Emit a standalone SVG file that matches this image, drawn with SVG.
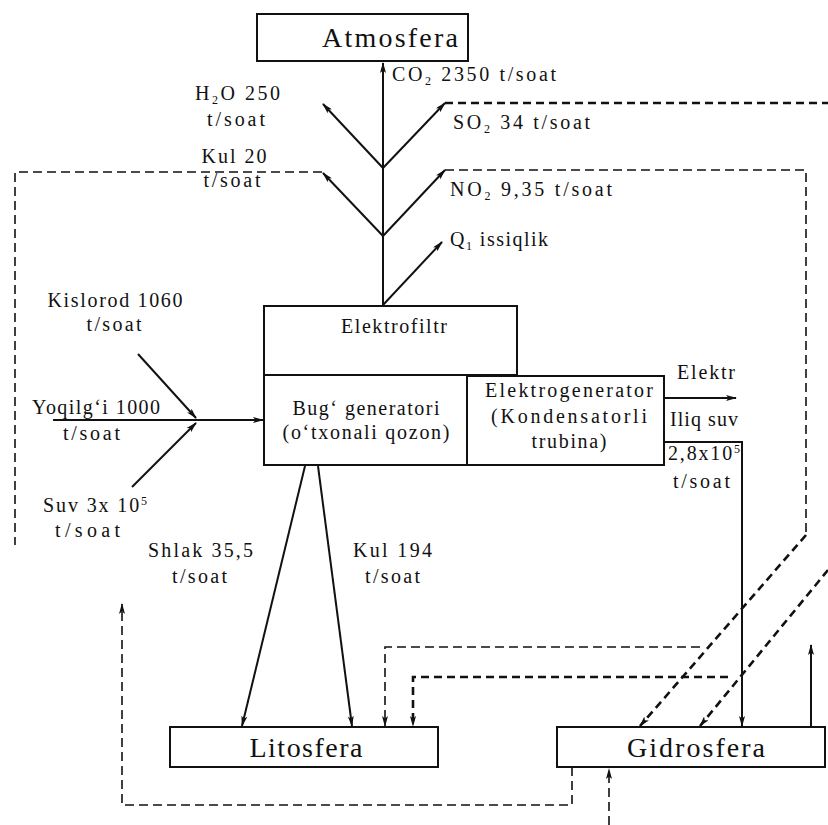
<svg xmlns="http://www.w3.org/2000/svg" width="828" height="825" viewBox="0 0 828 825">
<style>
text{font-family:"Liberation Serif","Times New Roman",serif;fill:#111;}
.lbl{font-size:20px;}
.box{fill:#fff;stroke:#111;stroke-width:2;}
.big{font-size:28px;}
.bt{font-size:20px;}
.s{fill:none;stroke:#111;stroke-width:2;}
.d{fill:none;stroke:#111;stroke-width:1.6;stroke-dasharray:9 5;}
.db{fill:none;stroke:#111;stroke-width:2.6;stroke-dasharray:8 5;}
.sub{font-size:12px;}
</style>
<defs>
<marker id="ah" viewBox="0 0 11 6" refX="10" refY="3" markerWidth="11" markerHeight="6" markerUnits="userSpaceOnUse" orient="auto">
<path d="M0,0 L11,3 L0,6 L2.5,3 z" fill="#111"/>
</marker>
</defs>

<g id="connectors">
<path class="s" d="M383,306 V63" marker-end="url(#ah)"/>
<path class="s" d="M383,168 L323,104" marker-end="url(#ah)"/>
<path class="s" d="M383,168 L445,103" marker-end="url(#ah)"/>
<path class="s" d="M383,236 L323,173" marker-end="url(#ah)"/>
<path class="s" d="M383,236 L445,170" marker-end="url(#ah)"/>
<path class="s" d="M383,305 L442,242" marker-end="url(#ah)"/>
<path class="s" d="M138,354 L196,418" marker-end="url(#ah)"/>
<path class="s" d="M132,487 L196,423" marker-end="url(#ah)"/>
<path class="s" d="M53,420 H263" marker-end="url(#ah)"/>
<path class="s" d="M665,398 H736" marker-end="url(#ah)"/>
<path class="s" d="M665,442 H742 V726" marker-end="url(#ah)"/>
<path class="s" d="M305,466 L242,726" marker-end="url(#ah)"/>
<path class="s" d="M318,466 L352,726" marker-end="url(#ah)"/>
<path class="s" d="M811,727 V645" marker-end="url(#ah)"/>

<path class="d" d="M322,172 H15 V545"/>
<path class="db" d="M445,103 H828"/>
<path class="d" d="M445,170 H806 V535"/>
<path class="db" d="M806,535 L640,726" marker-end="url(#ah)"/>
<path class="d" d="M700,647 H385 V726" marker-end="url(#ah)"/>
<path class="db" d="M828,570 L700,726" marker-end="url(#ah)"/>
<path class="db" d="M728,677 H413 V726" marker-end="url(#ah)"/>
<path class="d" d="M572,767 V805 H122 V604" marker-end="url(#ah)"/>
<path class="d" d="M609,825 V769" marker-end="url(#ah)"/>
</g>

<g id="labels">
<text class="lbl" x="392" y="81" textLength="164" lengthAdjust="spacing">CO<tspan class="sub" dy="4">2</tspan><tspan dy="-4"> 2350 t/soat</tspan></text>
<text class="lbl" x="195" y="100" textLength="85" lengthAdjust="spacing">H<tspan class="sub" dy="4">2</tspan><tspan dy="-4">O 250</tspan></text>
<text class="lbl" x="236" y="126" text-anchor="middle" textLength="58" lengthAdjust="spacing">t/soat</text>
<text class="lbl" x="453" y="129" textLength="137" lengthAdjust="spacing">SO<tspan class="sub" dy="4">2</tspan><tspan dy="-4"> 34 t/soat</tspan></text>
<text class="lbl" x="450" y="196" textLength="162" lengthAdjust="spacing">NO<tspan class="sub" dy="4">2</tspan><tspan dy="-4"> 9,35 t/soat</tspan></text>
<text class="lbl" x="450" y="246" textLength="98" lengthAdjust="spacing">Q<tspan class="sub" dy="4">1</tspan><tspan dy="-4"> issiqlik</tspan></text>
<text class="lbl" x="234" y="163" text-anchor="middle" textLength="65" lengthAdjust="spacing">Kul 20</text>
<text class="lbl" x="232" y="187" text-anchor="middle" textLength="57" lengthAdjust="spacing">t/soat</text>
<text class="lbl" x="115" y="307" text-anchor="middle" textLength="135" lengthAdjust="spacing">Kislorod 1060</text>
<text class="lbl" x="114" y="331" text-anchor="middle" textLength="55" lengthAdjust="spacing">t/soat</text>
<text class="lbl" x="32" y="414" textLength="128" lengthAdjust="spacing">Yoqilg‘i 1000</text>
<text class="lbl" x="63" y="440" textLength="57" lengthAdjust="spacing">t/soat</text>
<text class="lbl" x="43" y="512" textLength="104" lengthAdjust="spacing">Suv 3x 10<tspan class="sub" dy="-7">5</tspan></text>
<text class="lbl" x="55" y="537" textLength="65" lengthAdjust="spacing">t/soat</text>
<text class="lbl" x="677" y="379" textLength="58" lengthAdjust="spacing">Elektr</text>
<text class="lbl" x="670" y="426" textLength="68" lengthAdjust="spacing">Iliq suv</text>
<text class="lbl" x="668" y="460" textLength="72" lengthAdjust="spacing">2,8x10<tspan class="sub" dy="-7">5</tspan></text>
<text class="lbl" x="673" y="488" textLength="57" lengthAdjust="spacing">t/soat</text>
<text class="lbl" x="148" y="557" textLength="105" lengthAdjust="spacing">Shlak 35,5</text>
<text class="lbl" x="172" y="583" textLength="55" lengthAdjust="spacing">t/soat</text>
<text class="lbl" x="353" y="557" textLength="79" lengthAdjust="spacing">Kul 194</text>
<text class="lbl" x="365" y="583" textLength="55" lengthAdjust="spacing">t/soat</text>
</g>

<g id="atmosfera">
<rect class="box" x="257" y="14" width="211" height="47"/>
<text class="big" x="322" y="47" textLength="136" lengthAdjust="spacing">Atmosfera</text>
</g>

<g id="elektrofiltr">
<rect class="box" x="264" y="306" width="253" height="69"/>
<text class="bt" x="394" y="333" text-anchor="middle" textLength="106" lengthAdjust="spacing">Elektrofiltr</text>
</g>

<g id="bug-generatori">
<rect class="box" x="264" y="375" width="203" height="90"/>
<text class="bt" x="366" y="415" text-anchor="middle" textLength="147" lengthAdjust="spacing">Bug‘ generatori</text>
<text class="bt" x="366" y="439" text-anchor="middle" textLength="167" lengthAdjust="spacing">(o‘txonali qozon)</text>
</g>

<g id="elektrogenerator">
<rect class="box" x="467" y="376" width="197" height="89"/>
<text class="bt" x="569" y="397" text-anchor="middle" textLength="168" lengthAdjust="spacing">Elektrogenerator</text>
<text class="bt" x="569" y="423" text-anchor="middle" textLength="156" lengthAdjust="spacing">(Kondensatorli</text>
<text class="bt" x="569" y="448" text-anchor="middle" textLength="75" lengthAdjust="spacing">trubina)</text>
</g>

<g id="litosfera">
<rect class="box" x="170" y="727" width="268" height="40"/>
<text class="big" x="306" y="757" text-anchor="middle" textLength="113" lengthAdjust="spacing">Litosfera</text>
</g>

<g id="gidrosfera">
<rect class="box" x="557" y="727" width="268" height="40"/>
<text class="big" x="696" y="757" text-anchor="middle" textLength="138" lengthAdjust="spacing">Gidrosfera</text>
</g>
</svg>
